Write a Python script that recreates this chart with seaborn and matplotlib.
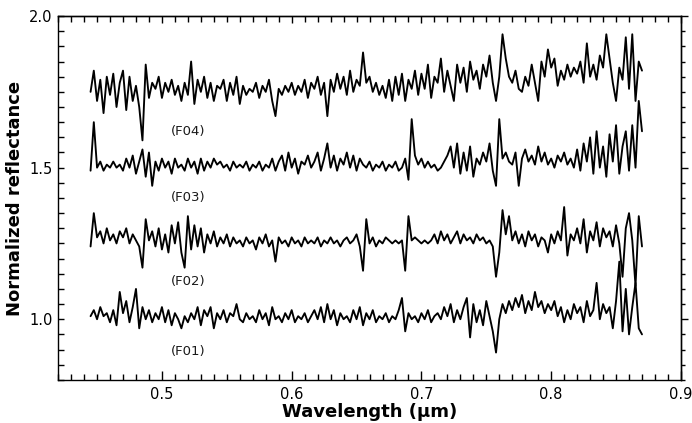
import numpy as np
import pandas as pd
import matplotlib
matplotlib.use("Agg")
import matplotlib.pyplot as plt
from matplotlib.ticker import MultipleLocator, FormatStrFormatter
import seaborn as sns

# ---------------- data ----------------
wavelength = [
    0.445, 0.4475, 0.45, 0.4525, 0.455, 0.4575, 0.46, 0.4625, 0.465, 0.4675,
    0.47, 0.4725, 0.475, 0.4775, 0.48, 0.4825, 0.485, 0.4875, 0.49, 0.4925,
    0.495, 0.4975, 0.5, 0.5025, 0.505, 0.5075, 0.51, 0.5125, 0.515, 0.5175,
    0.52, 0.5225, 0.525, 0.5275, 0.53, 0.5325, 0.535, 0.5375, 0.54, 0.5425,
    0.545, 0.5475, 0.55, 0.5525, 0.555, 0.5575, 0.56, 0.5625, 0.565, 0.5675,
    0.57, 0.5725, 0.575, 0.5775, 0.58, 0.5825, 0.585, 0.5875, 0.59, 0.5925,
    0.595, 0.5975, 0.6, 0.6025, 0.605, 0.6075, 0.61, 0.6125, 0.615, 0.6175,
    0.62, 0.6225, 0.625, 0.6275, 0.63, 0.6325, 0.635, 0.6375, 0.64, 0.6425,
    0.645, 0.6475, 0.65, 0.6525, 0.655, 0.6575, 0.66, 0.6625, 0.665, 0.6675,
    0.67, 0.6725, 0.675, 0.6775, 0.68, 0.6825, 0.685, 0.6875, 0.69, 0.6925,
    0.695, 0.6975, 0.7, 0.7025, 0.705, 0.7075, 0.71, 0.7125, 0.715, 0.7175,
    0.72, 0.7225, 0.725, 0.7275, 0.73, 0.7325, 0.735, 0.7375, 0.74, 0.7425,
    0.745, 0.7475, 0.75, 0.7525, 0.755, 0.7575, 0.76, 0.7625, 0.765, 0.7675,
    0.77, 0.7725, 0.775, 0.7775, 0.78, 0.7825, 0.785, 0.7875, 0.79, 0.7925,
    0.795, 0.7975, 0.8, 0.8025, 0.805, 0.8075, 0.81, 0.8125, 0.815, 0.8175,
    0.82, 0.8225, 0.825, 0.8275, 0.83, 0.8325, 0.835, 0.8375, 0.84, 0.8425,
    0.845, 0.8475, 0.85, 0.8525, 0.855, 0.8575, 0.86, 0.8625, 0.865, 0.8675,
    0.87,
]

F04 = [
    1.75, 1.82, 1.72, 1.79, 1.68, 1.80, 1.74, 1.81, 1.70, 1.78,
    1.82, 1.69, 1.80, 1.72, 1.77, 1.70, 1.59, 1.84, 1.73, 1.78,
    1.76, 1.80, 1.73, 1.78, 1.75, 1.79, 1.74, 1.77, 1.72, 1.78,
    1.74, 1.85, 1.71, 1.79, 1.75, 1.80, 1.73, 1.78, 1.72, 1.77,
    1.76, 1.79, 1.72, 1.78, 1.74, 1.80, 1.71, 1.77, 1.74, 1.76,
    1.75, 1.78, 1.73, 1.77, 1.75, 1.79, 1.72, 1.67, 1.76, 1.74,
    1.77, 1.75, 1.78, 1.74, 1.77, 1.75, 1.79, 1.73, 1.78, 1.76,
    1.80, 1.74, 1.78, 1.67, 1.79, 1.75, 1.81, 1.76, 1.80, 1.74,
    1.82, 1.75, 1.79, 1.77, 1.88, 1.78, 1.80, 1.75, 1.78, 1.74,
    1.77, 1.73, 1.79, 1.72, 1.80, 1.74, 1.81, 1.72, 1.79, 1.76,
    1.82, 1.74, 1.81, 1.76, 1.84, 1.73, 1.80, 1.78, 1.86, 1.75,
    1.82, 1.77, 1.72, 1.84, 1.78, 1.83, 1.75, 1.85, 1.79, 1.82,
    1.76, 1.84, 1.80, 1.87, 1.78, 1.72, 1.80, 1.94, 1.86, 1.80,
    1.78, 1.82, 1.76, 1.75, 1.80, 1.77, 1.84, 1.78, 1.72, 1.85,
    1.80, 1.89, 1.83, 1.86, 1.77, 1.82, 1.79, 1.84, 1.80, 1.83,
    1.81, 1.85, 1.78, 1.91, 1.80, 1.84, 1.79, 1.87, 1.83, 1.94,
    1.86, 1.78, 1.72, 1.83, 1.79, 1.93, 1.76, 1.94, 1.72, 1.85,
    1.82,
]

F03 = [
    1.49, 1.65, 1.50, 1.52, 1.49, 1.51, 1.50, 1.52, 1.50, 1.51,
    1.49, 1.53, 1.50, 1.54, 1.48, 1.52, 1.56, 1.47, 1.55, 1.44,
    1.52, 1.49, 1.53, 1.50, 1.52, 1.48, 1.53, 1.50, 1.51, 1.49,
    1.53, 1.50, 1.52, 1.48, 1.53, 1.49, 1.52, 1.50, 1.53, 1.51,
    1.52, 1.50, 1.51, 1.49, 1.52, 1.50, 1.51, 1.50, 1.52, 1.49,
    1.51, 1.50, 1.52, 1.49, 1.51, 1.50, 1.53, 1.49, 1.52, 1.54,
    1.49, 1.55, 1.50, 1.53, 1.48, 1.52, 1.51, 1.54, 1.50, 1.52,
    1.55, 1.49, 1.53, 1.58, 1.50, 1.54, 1.49, 1.53, 1.51, 1.55,
    1.50, 1.54, 1.49, 1.53, 1.51, 1.50, 1.52, 1.49, 1.51, 1.50,
    1.52, 1.49, 1.51, 1.50, 1.52, 1.49, 1.50, 1.53, 1.46, 1.66,
    1.54, 1.51, 1.53, 1.50, 1.52, 1.50, 1.51, 1.49, 1.50, 1.52,
    1.54, 1.57, 1.50, 1.58, 1.48, 1.55, 1.49, 1.57, 1.47, 1.53,
    1.51, 1.55, 1.52, 1.58, 1.49, 1.44, 1.66, 1.53, 1.55, 1.52,
    1.51, 1.55, 1.44, 1.53, 1.56, 1.52, 1.54, 1.51, 1.57, 1.52,
    1.55, 1.51, 1.53, 1.50, 1.54, 1.52, 1.55, 1.51, 1.53, 1.50,
    1.56, 1.49, 1.58, 1.52, 1.60, 1.48, 1.62, 1.50, 1.57, 1.47,
    1.61, 1.52, 1.64, 1.48, 1.57, 1.62, 1.49, 1.64, 1.50, 1.72,
    1.62,
]

F02 = [
    1.24, 1.35, 1.27, 1.29, 1.25, 1.30, 1.26, 1.28, 1.25, 1.29,
    1.27, 1.30, 1.25, 1.28, 1.26, 1.24, 1.17, 1.33, 1.26, 1.29,
    1.24, 1.30, 1.23, 1.28, 1.22, 1.31, 1.25, 1.32, 1.22, 1.17,
    1.34, 1.23, 1.31, 1.24, 1.30, 1.22, 1.28, 1.25, 1.29, 1.24,
    1.27, 1.25, 1.28, 1.24, 1.27, 1.25, 1.26, 1.24, 1.27, 1.25,
    1.26, 1.23, 1.27, 1.25, 1.28, 1.24, 1.26, 1.19, 1.27, 1.25,
    1.26, 1.24, 1.27, 1.25, 1.26, 1.24, 1.27, 1.25, 1.26, 1.25,
    1.27, 1.24, 1.26, 1.25, 1.27, 1.25, 1.26, 1.24, 1.26, 1.27,
    1.25, 1.26, 1.28, 1.24, 1.16, 1.33, 1.25, 1.27, 1.24, 1.26,
    1.25, 1.27, 1.26, 1.25, 1.26, 1.25, 1.26, 1.16, 1.34, 1.26,
    1.27, 1.26, 1.25, 1.26, 1.25, 1.26, 1.28, 1.25, 1.29, 1.26,
    1.28, 1.25, 1.27, 1.29, 1.25, 1.28, 1.26, 1.27, 1.25, 1.28,
    1.26, 1.27, 1.25, 1.26, 1.24, 1.14, 1.22, 1.36, 1.28, 1.34,
    1.26, 1.29, 1.25, 1.28, 1.24, 1.29, 1.26, 1.28, 1.24, 1.27,
    1.26, 1.22, 1.28, 1.25, 1.29, 1.26, 1.37, 1.21, 1.28, 1.26,
    1.30, 1.25, 1.33, 1.22, 1.29, 1.26, 1.32, 1.24, 1.30, 1.27,
    1.29, 1.24, 1.31, 1.25, 1.14, 1.30, 1.35, 1.26, 1.11, 1.34,
    1.24,
]

F01 = [
    1.01, 1.03, 1.00, 1.04, 1.01, 1.02, 0.99, 1.03, 0.98, 1.09,
    1.02, 1.06, 0.99, 1.04, 1.10, 0.97, 1.04, 1.00, 1.03, 0.99,
    1.02, 1.00, 1.04, 0.99, 1.03, 0.98, 1.02, 1.00, 0.97, 1.01,
    0.99, 1.02, 1.00, 1.04, 0.98, 1.03, 1.01, 1.04, 0.97, 1.02,
    1.00, 1.03, 0.99, 1.02, 1.01, 1.05, 1.00, 0.99, 1.02, 1.00,
    1.01, 0.99, 1.03, 1.00, 1.02, 0.98, 1.04, 1.00, 1.01, 0.99,
    1.02, 1.00, 1.03, 0.99, 1.01, 1.00, 1.02, 0.99, 1.01, 1.03,
    1.00, 1.04, 0.99, 1.05, 1.00, 1.03, 0.98, 1.02, 1.00, 1.01,
    0.99, 1.03, 1.00, 1.04, 0.98, 1.02, 1.00, 1.03, 0.99, 1.01,
    1.00, 1.02, 0.99, 1.01, 1.00, 1.03, 1.07, 0.96, 1.02, 1.00,
    1.01, 0.99, 1.02, 1.00, 1.03, 0.99, 1.01, 1.02, 1.00, 1.04,
    1.01, 1.05, 0.99, 1.03, 1.00, 1.04, 1.07, 0.94, 1.05, 0.99,
    1.03, 0.98, 1.06, 1.01, 0.96, 0.89, 1.00, 1.05, 1.02, 1.06,
    1.03, 1.07, 1.04, 1.08, 1.02, 1.06, 1.03, 1.09, 1.04, 1.06,
    1.02, 1.05, 1.03, 1.06, 1.01, 1.04, 0.99, 1.03, 1.00, 1.05,
    1.02, 1.04, 0.99, 1.06, 1.01, 1.03, 1.12, 1.00, 1.05, 1.02,
    1.04, 0.97, 1.06, 1.19, 0.96, 1.10, 0.95, 1.04, 1.12, 0.97,
    0.95,
]

spectrum_names = ["(F01)", "(F02)", "(F03)", "(F04)"]
label_x = [0.5205, 0.5205, 0.5205, 0.5205]
label_y = [0.892, 1.123, 1.402, 1.618]

# ---------------- build long table ----------------
series = {"(F01)": F01, "(F02)": F02, "(F03)": F03, "(F04)": F04}
frames = []
for name in spectrum_names:
    frames.append(pd.DataFrame({"wavelength": wavelength,
                                "reflectance": series[name],
                                "spectrum": name}))
df = pd.concat(frames, ignore_index=True)

# ---------------- plot ----------------
sns.set_style("white")
plt.rcParams["font.family"] = ["DejaVu Sans"]
plt.rcParams["text.color"] = "black"
plt.rcParams["axes.labelcolor"] = "black"
plt.rcParams["xtick.color"] = "black"
plt.rcParams["ytick.color"] = "black"

fig = plt.figure(figsize=(6.92, 4.23), dpi=100)
ax = fig.add_axes([0.084, 0.102, 0.900, 0.860])

sns.lineplot(data=df, x="wavelength", y="reflectance", units="spectrum",
             estimator=None, sort=False, color="black", linewidth=1.35, ax=ax)

for name, tx, ty in zip(spectrum_names, label_x, label_y):
    ax.text(tx, ty, name, ha="center", va="center", fontsize=9.5, color="#1a1a1a")

ax.set_xlim(0.42, 0.9)
ax.set_ylim(0.8, 2.0)
ax.xaxis.set_major_locator(MultipleLocator(0.1))
ax.xaxis.set_minor_locator(MultipleLocator(0.01))
ax.yaxis.set_major_locator(MultipleLocator(0.5))
ax.yaxis.set_minor_locator(MultipleLocator(0.05))
ax.xaxis.set_major_formatter(FormatStrFormatter("%.1f"))
ax.yaxis.set_major_formatter(FormatStrFormatter("%.1f"))

for s in ax.spines.values():
    s.set_visible(True)
    s.set_color("black")
    s.set_linewidth(1.0)

ax.tick_params(axis="x", which="major", direction="in", length=6.5, width=1,
               bottom=True, top=False, labelsize=10.5, pad=5)
ax.tick_params(axis="x", which="minor", direction="in", length=4.5, width=1,
               bottom=True, top=False)
ax.tick_params(axis="y", which="major", direction="in", length=4.5, width=1,
               left=True, right=False, labelsize=10.5, pad=4)
ax.tick_params(axis="y", which="minor", direction="in", length=4.5, width=1,
               left=True, right=False)

sec_top = ax.secondary_xaxis("top")
sec_top.xaxis.set_major_locator(MultipleLocator(0.1))
sec_top.xaxis.set_minor_locator(MultipleLocator(0.01))
sec_top.tick_params(axis="x", which="major", direction="in", length=5, width=1,
                    labeltop=False)
sec_top.tick_params(axis="x", which="minor", direction="in", length=4, width=1)
sec_top.spines["top"].set_linewidth(1.0)

sec_right = ax.secondary_yaxis("right")
sec_right.yaxis.set_major_locator(MultipleLocator(0.5))
sec_right.yaxis.set_minor_locator(MultipleLocator(0.05))
sec_right.tick_params(axis="y", which="major", direction="out", length=5, width=1,
                      labelright=False)
sec_right.tick_params(axis="y", which="minor", direction="out", length=3, width=1)
sec_right.spines["right"].set_linewidth(1.0)

ax.set_xlabel("Wavelength (μm)", fontsize=13, fontweight="bold", labelpad=1)
ax.set_ylabel("Normalized reflectance", fontsize=13, fontweight="bold", labelpad=4)

fig.savefig("out.png", dpi=100)
